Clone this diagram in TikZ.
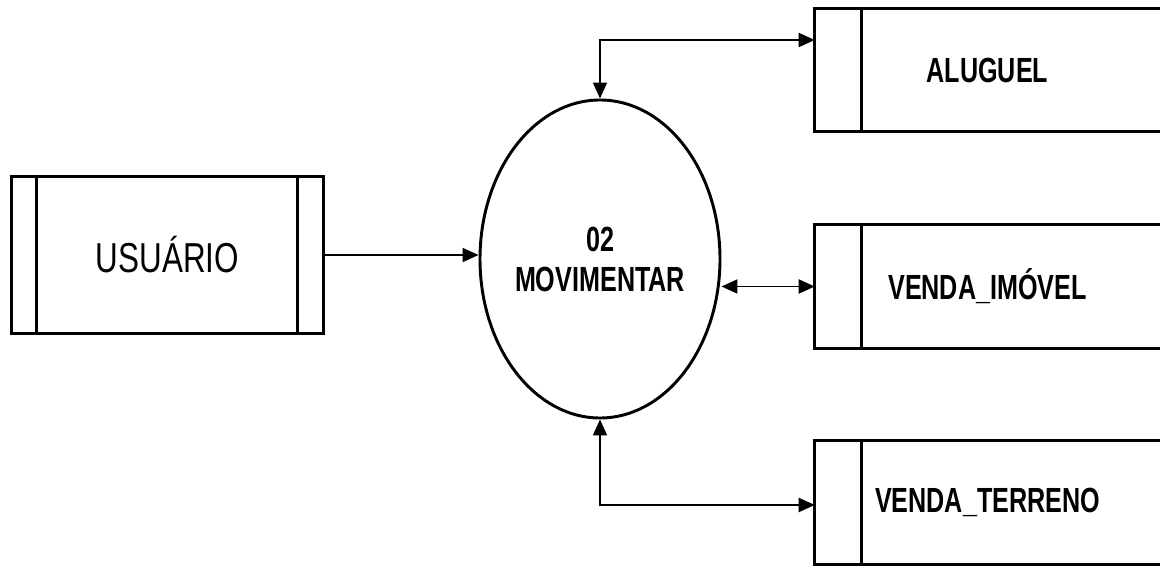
\documentclass[tikz,border=0pt]{standalone}
\usepackage{fontspec}
\setmainfont{Liberation Sans}
\newfontfamily\estreita[FakeStretch=0.75]{Liberation Sans}
\newfontfamily\estreitab[FakeStretch=0.72]{Liberation Sans}
\usepackage{tikz}
\usetikzlibrary{arrows.meta, positioning, calc, shapes}

\tikzset{
    borda/.style={line width=2.2pt},
    entidade/.style={minimum width=233.25pt, minimum height=117pt, inner sep=0pt, font=\estreita\fontsize{31.4}{36}\selectfont},
    deposito/.style={minimum width=258.75pt, minimum height=92.25pt, inner sep=0pt, font=\estreitab\bfseries\fontsize{26.2}{30}\selectfont},
    processo/.style={ellipse, draw, line width=2.2pt, minimum width=180pt, minimum height=238.5pt, inner xsep=-4pt, inner ysep=0pt, align=center, font=\estreitab\bfseries\fontsize{26.2}{30}\selectfont},
    fluxo/.style={-{Triangle[length=12pt, width=10.5pt]}, line width=1.4pt},
    fluxoduplo/.style={{Triangle[length=12pt, width=10.5pt]}-{Triangle[length=12pt, width=10.5pt]}, line width=1.4pt}
}

\begin{document}
\begin{tikzpicture}[x=0.75pt, y=-0.75pt]
    \useasboundingbox (0,0) rectangle (1160,566);

    \node[entidade] (usuario) at (167.5, 255) {USUÁRIO};
    \node[processo] (proc) at (600, 259) {02\\MOVIMENTAR};
    \node[deposito] (aluguel) at (987.5, 70) {ALUGUEL};
    \node[deposito] (imovel) at (987.5, 286.5) {VENDA\_IMÓVEL};
    \node[deposito] (terreno) at (987.5, 502.5) {VENDA\_TERRENO};

    % entidade externa
    \draw[borda] (usuario.south west) rectangle (usuario.north east);
    \draw[borda] ([xshift=18.75pt]usuario.north west) -- ([xshift=18.75pt]usuario.south west);
    \draw[borda] ([xshift=-19.5pt]usuario.north east) -- ([xshift=-19.5pt]usuario.south east);

    % depositos de dados
    \foreach \d in {aluguel, imovel, terreno} {
        \draw[borda] (\d.north east) -- (\d.north west) -- (\d.south west) -- (\d.south east);
        \draw[borda] ([xshift=35.25pt]\d.north west) -- ([xshift=35.25pt]\d.south west);
    }

    \coordinate (cima) at (600, 40);
    \coordinate (baixo) at (600, 505);

    \draw[fluxo] (usuario.east) -- (usuario.east -| proc.west);
    \draw[fluxoduplo] (proc.north) -- (cima) -- (cima -| aluguel.west);
    \draw[fluxoduplo] (imovel.west -| proc.east) -- (imovel.west);
    \draw[fluxoduplo] (proc.south) -- (baixo) -- (baixo -| terreno.west);
\end{tikzpicture}
\end{document}
